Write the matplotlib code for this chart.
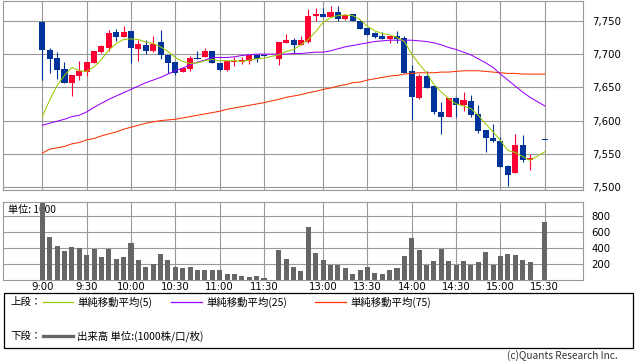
import matplotlib
matplotlib.use("Agg")
import matplotlib.pyplot as plt
from matplotlib.lines import Line2D
from matplotlib.patches import Rectangle

plt.rcParams['font.family'] = ['DejaVu Sans']
JP = ['Noto Sans CJK JP', 'DejaVu Sans']

# ---------------- data ----------------
times = ["9:00", "9:05", "9:10", "9:15", "9:20", "9:25", "9:30", "9:35", "9:40", "9:45",
         "9:50", "9:55", "10:00", "10:05", "10:10", "10:15", "10:20", "10:25", "10:30", "10:35",
         "10:40", "10:45", "10:50", "10:55", "11:00", "11:05", "11:10", "11:15", "11:20", "11:25",
         "11:30",
         "12:30", "12:35", "12:40", "12:45", "12:50", "12:55", "13:00", "13:05", "13:10", "13:15",
         "13:20", "13:25", "13:30", "13:35", "13:40", "13:45", "13:50", "13:55", "14:00", "14:05",
         "14:10", "14:15", "14:20", "14:25", "14:30", "14:35", "14:40", "14:45", "14:50", "14:55",
         "15:00", "15:05", "15:10", "15:15", "15:20", "15:30"]

opens = [7749, 7706, 7694, 7678, 7657, 7667, 7673, 7687, 7703, 7710,
         7733, 7726, 7735, 7708, 7714, 7705, 7718, 7698, 7688, 7673,
         7678, 7694, 7695, 7705, 7687, 7676, 7688, 7688, 7690, 7698,
         7699,
         7693, 7717, 7721, 7714, 7719, 7757, 7760, 7756, 7763, 7753,
         7760, 7750, 7739, 7732, 7727, 7723, 7727, 7725, 7675, 7634,
         7667, 7652, 7613, 7606, 7634, 7624, 7629, 7610, 7586, 7574,
         7570, 7531, 7521, 7563, 7541, 7571]
highs = [7750, 7710, 7703, 7688, 7668, 7689, 7688, 7704, 7714, 7737,
         7738, 7742, 7735, 7721, 7721, 7727, 7736, 7698, 7688, 7679,
         7697, 7705, 7709, 7705, 7687, 7690, 7695, 7695, 7698, 7698,
         7699,
         7718, 7731, 7725, 7727, 7768, 7769, 7769, 7773, 7773, 7760,
         7760, 7752, 7739, 7734, 7733, 7727, 7735, 7727, 7683, 7670,
         7675, 7652, 7628, 7634, 7636, 7643, 7638, 7623, 7586, 7595,
         7575, 7533, 7580, 7579, 7549, 7571]
lows = [7661, 7672, 7663, 7656, 7637, 7661, 7667, 7687, 7701, 7704,
        7720, 7726, 7686, 7690, 7700, 7703, 7693, 7672, 7668, 7673,
        7674, 7693, 7695, 7687, 7674, 7674, 7682, 7685, 7685, 7688,
        7697,
        7683, 7717, 7702, 7714, 7717, 7750, 7756, 7756, 7750, 7751,
        7750, 7738, 7729, 7725, 7723, 7717, 7717, 7671, 7601, 7632,
        7649, 7610, 7580, 7606, 7605, 7615, 7606, 7582, 7553, 7568,
        7530, 7501, 7521, 7538, 7526, 7571]
closes = [7706, 7693, 7676, 7657, 7668, 7675, 7688, 7704, 7712, 7732,
          7726, 7733, 7710, 7715, 7705, 7716, 7699, 7687, 7672, 7679,
          7694, 7693, 7705, 7687, 7676, 7690, 7690, 7691, 7698, 7693,
          7697,
          7718, 7721, 7714, 7721, 7758, 7760, 7756, 7763, 7753, 7759,
          7750, 7738, 7729, 7726, 7723, 7727, 7723, 7672, 7636, 7667,
          7649, 7613, 7606, 7634, 7624, 7631, 7608, 7585, 7574, 7570,
          7530, 7518, 7563, 7540, 7544, 7571]
volumes = [1000, 538, 425, 363, 413, 400, 313, 392, 288, 392,
           263, 288, 463, 250, 163, 200, 325, 250, 163, 150,
           163, 125, 125, 125, 125, 75, 75, 50, 38, 50,
           25,
           375, 263, 163, 113, 663, 338, 250, 188, 188, 150,
           75, 125, 163, 88, 75, 125, 150, 300, 525, 375,
           188, 238, 392, 238, 188, 238, 188, 225, 350, 188,
           300, 325, 313, 250, 225, 725]
ma5 = [7606, 7631, 7653, 7668, 7680, 7675, 7674, 7681, 7692, 7706,
       7716, 7722, 7723, 7722, 7718, 7716, 7711, 7704, 7695, 7689,
       7686, 7687, 7690, 7692, 7690, 7690, 7690, 7689, 7691, 7693,
       7694,
       7699, 7704, 7707, 7714, 7722, 7734, 7748, 7755, 7758, 7759,
       7758, 7752, 7742, 7735, 7731, 7729, 7725, 7719, 7700, 7685,
       7672, 7654, 7643, 7633, 7625, 7622, 7618, 7608, 7595, 7583,
       7570, 7555, 7552, 7546, 7540, 7553]
ma25 = [7593, 7596, 7599, 7602, 7606, 7608, 7613, 7620, 7626, 7632,
        7637, 7642, 7647, 7652, 7657, 7661, 7665, 7670, 7675, 7679,
        7684, 7688, 7691, 7695, 7695, 7695, 7696, 7698, 7699, 7700,
        7700,
        7700, 7700, 7701, 7701, 7702, 7703, 7703, 7705, 7708, 7711,
        7713, 7715, 7717, 7719, 7720, 7721, 7721, 7721, 7721, 7720,
        7719, 7717, 7714, 7710, 7707, 7703, 7699, 7693, 7687, 7680,
        7670, 7661, 7652, 7643, 7635, 7622]
ma75 = [7551, 7557, 7559, 7561, 7565, 7567, 7571, 7573, 7577, 7580,
        7583, 7587, 7590, 7593, 7596, 7598, 7600, 7601, 7602, 7604,
        7606, 7608, 7610, 7612, 7614, 7617, 7619, 7621, 7623, 7625,
        7627,
        7632, 7635, 7637, 7639, 7642, 7644, 7647, 7649, 7652, 7654,
        7657, 7658, 7661, 7663, 7665, 7667, 7668, 7670, 7671, 7672,
        7672, 7672, 7673, 7673, 7674, 7675, 7675, 7675, 7674, 7673,
        7672, 7671, 7671, 7670, 7670, 7670]

tick_labels = ["9:00", "9:30", "10:00", "10:30", "11:00", "11:30",
               "13:00", "13:30", "14:00", "14:30", "15:00", "15:30"]
price_ticks = [7500, 7550, 7600, 7650, 7700, 7750]
vol_ticks = [200, 400, 600, 800]


# time -> slot on the session axis (morning 9:00-11:30, one empty slot, afternoon 12:30-15:30)
def slot(t):
    h, m = map(int, t.split(":"))
    mins = h * 60 + m
    if mins <= 11 * 60 + 30:
        return (mins - 9 * 60) / 5
    return 32 + (mins - (12 * 60 + 30)) / 5


xs = [slot(t) for t in times]
xt = [slot(t) for t in tick_labels]

RED = "#ff0033"
BLUE = "#003399"
GRID = "#999999"

W, H = 638, 362
fig = plt.figure(figsize=(W / 100, H / 100), dpi=100)

L, R = 3.3, 582.7
XMIN, XMAX = -5.28, 73.13

# ---------------- price panel ----------------
ax = fig.add_axes([L / W, 1 - 190 / H, (R - L) / W, 189 / H])
ax.set_xlim(XMIN, XMAX)
ax.set_ylim(7495.5, 7780)
ax.set_axisbelow(True)
ax.grid(True, color=GRID, lw=0.8)
for s in ax.spines.values():
    s.set_color(GRID)
    s.set_linewidth(0.8)
ax.set_xticks(xt)
ax.set_xticklabels([])
ax.yaxis.tick_right()
ax.set_yticks(price_ticks)
ax.set_yticklabels([f"{v:,}" for v in price_ticks])
ax.tick_params(axis='both', length=0)
ax.tick_params(axis='y', pad=6.5, labelsize=7.3)

for x, o, h, l, c in zip(xs, opens, highs, lows, closes):
    col = RED if c > o else BLUE
    ax.vlines(x, l, h, color=col, lw=0.8, zorder=2)
    body = max(abs(c - o), 1.2)
    ax.bar(x, body, bottom=min(o, c) if abs(c - o) >= 1.2 else (o + c) / 2 - 0.6,
           width=0.82, color=col, lw=0, zorder=3)

ax.plot(xs, ma75, color="#ff3300", lw=0.75, zorder=4)
ax.plot(xs, ma25, color="#9900ff", lw=0.75, zorder=4)
ax.plot(xs, ma5, color="#99cc00", lw=0.75, zorder=4)

# ---------------- volume panel ----------------
av = fig.add_axes([L / W, 1 - 280 / H, (R - L) / W, 78.3 / H])
av.set_xlim(XMIN, XMAX)
av.set_ylim(0, 979)
av.set_axisbelow(True)
av.grid(True, color=GRID, lw=0.8)
for s in av.spines.values():
    s.set_color(GRID)
    s.set_linewidth(0.8)
av.set_xticks(xt)
av.set_xticklabels(tick_labels)
av.yaxis.tick_right()
av.set_yticks(vol_ticks)
av.set_yticklabels([str(v) for v in vol_ticks])
av.tick_params(axis='both', length=0, labelsize=7.3)
av.tick_params(axis='y', pad=6.5)
av.tick_params(axis='x', pad=1.5)
av.text(0.008, 0.9, "単位: 1000", transform=av.transAxes, family=JP,
        fontsize=7.3, va='center', ha='left', zorder=0.8)
av.bar(xs, volumes, width=0.68, color="#666666", lw=0, zorder=2)

# ---------------- legend ----------------
def fx(px):
    return px / W


def fy(py):
    return 1 - py / H


fig.patches.append(Rectangle((fx(3.5), fy(348)), fx(633) - fx(3.5), fy(293) - fy(348),
                             transform=fig.transFigure, fill=False, edgecolor="black", lw=0.9))
r1, r2 = 302, 336
fs = 7.5
fig.text(fx(10), fy(r1), "上段：", family=JP, fontsize=fs, va='center')
fig.text(fx(10), fy(r2), "下段：", family=JP, fontsize=fs, va='center')
for x0, x1, col, lab in [(43, 73, "#99cc00", "単純移動平均(5)"),
                         (171, 202, "#9900ff", "単純移動平均(25)"),
                         (315, 346, "#ff3300", "単純移動平均(75)")]:
    fig.lines.append(Line2D([fx(x0), fx(x1)], [fy(r1), fy(r1)], transform=fig.transFigure,
                            color=col, lw=0.9))
    fig.text(fx(x1 + 4), fy(r1), lab, family=JP, fontsize=fs, va='center')
fig.lines.append(Line2D([fx(43), fx(73)], [fy(r2), fy(r2)], transform=fig.transFigure,
                        color="#666666", lw=2.4))
fig.text(fx(77), fy(r2), "出来高 単位:(1000株/口/枚)", family=JP, fontsize=fs, va='center')
fig.text(fx(618), fy(356), "(c)Quants Research Inc.", family=JP, fontsize=7.3,
         va='center', ha='right', color="#333333")

fig.savefig("out.png", dpi=100)
